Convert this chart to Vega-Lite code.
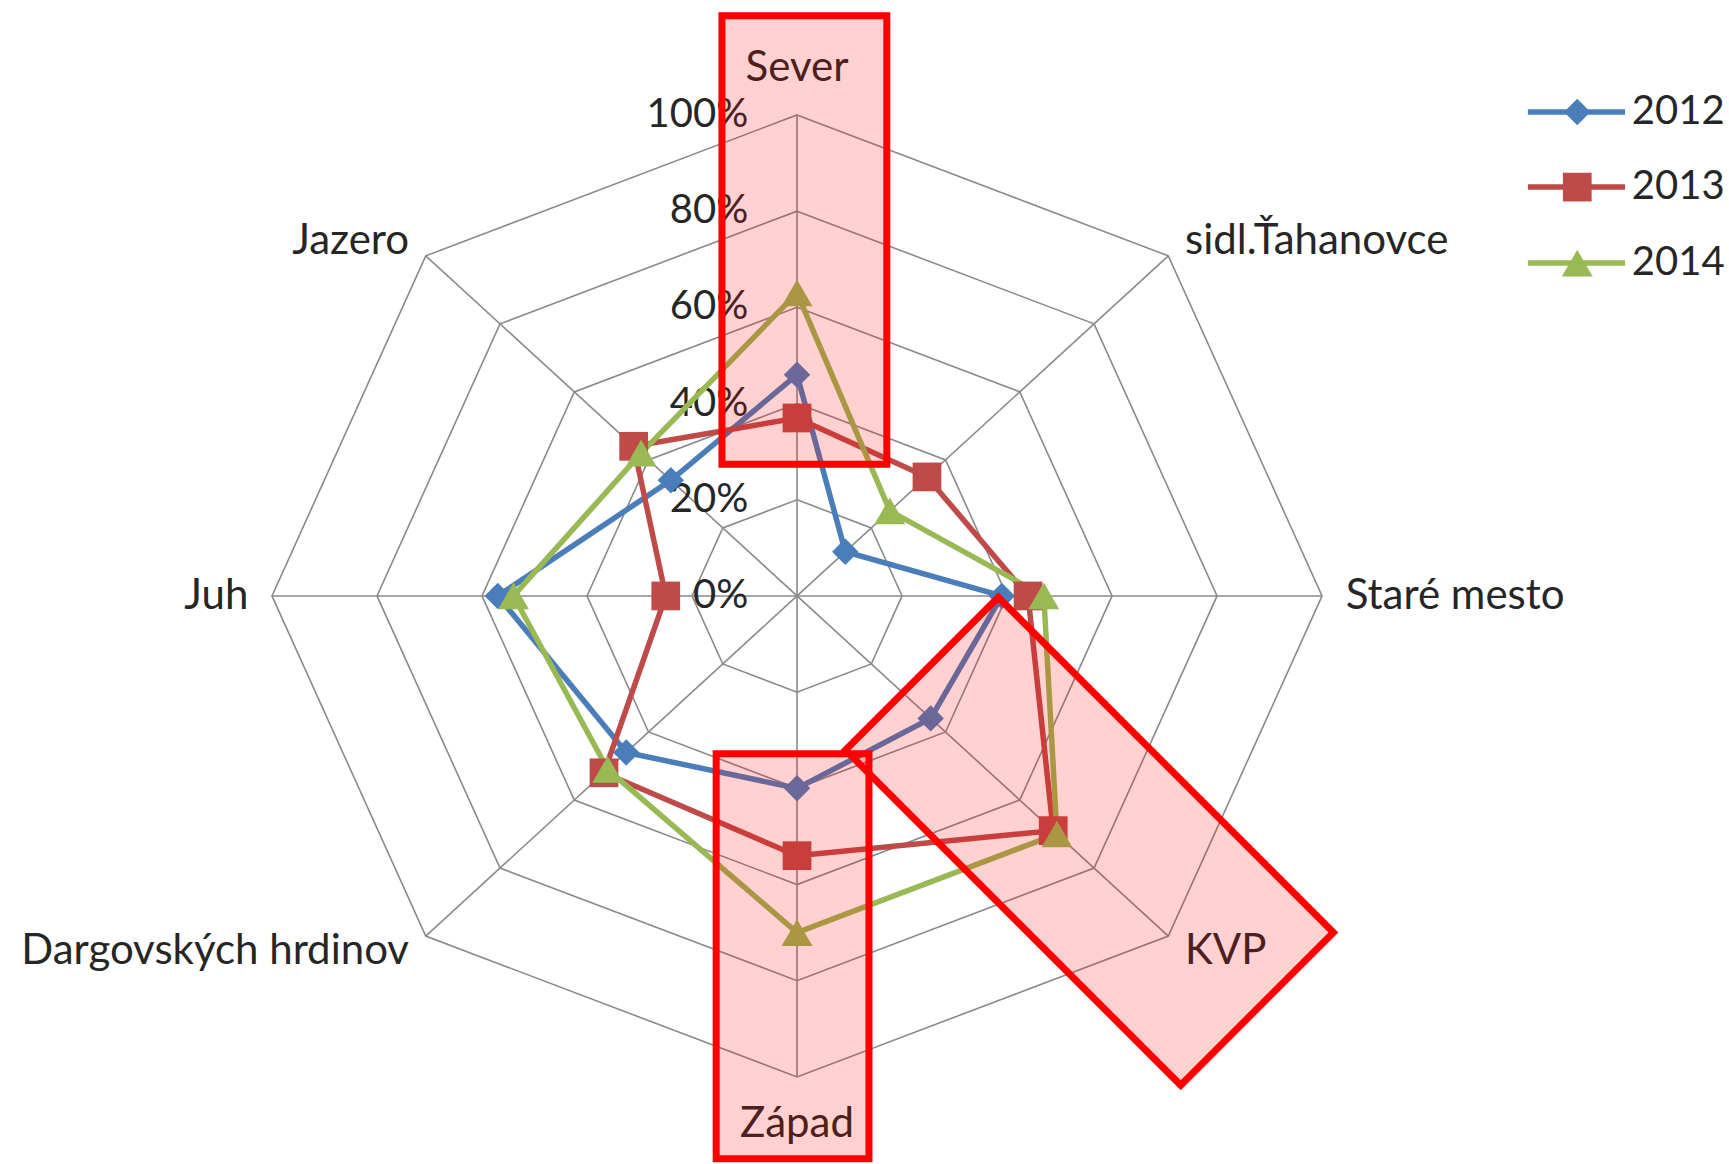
{
  "$schema": "https://vega.github.io/schema/vega-lite/v6.json",
  "autosize": {"type": "fit", "contains": "padding"},
  "width": 1729,
  "height": 1164,
  "padding": 0,
  "background": "white",
  "config": {"view": {"stroke": null}, "text": {"font": "Lato", "color": "#262626"}},
  "datasets": {
    "scores": [
      {"district": "Sever", "idx": 0, "year": "2012", "share": 0.46},
      {"district": "sidl.Ťahanovce", "idx": 1, "year": "2012", "share": 0.13},
      {"district": "Staré mesto", "idx": 2, "year": "2012", "share": 0.39},
      {"district": "KVP", "idx": 3, "year": "2012", "share": 0.36},
      {"district": "Západ", "idx": 4, "year": "2012", "share": 0.40},
      {"district": "Dargovských hrdinov", "idx": 5, "year": "2012", "share": 0.46},
      {"district": "Juh", "idx": 6, "year": "2012", "share": 0.57},
      {"district": "Jazero", "idx": 7, "year": "2012", "share": 0.34},
      {"district": "Sever", "idx": 0, "year": "2013", "share": 0.37},
      {"district": "sidl.Ťahanovce", "idx": 1, "year": "2013", "share": 0.35},
      {"district": "Staré mesto", "idx": 2, "year": "2013", "share": 0.44},
      {"district": "KVP", "idx": 3, "year": "2013", "share": 0.69},
      {"district": "Západ", "idx": 4, "year": "2013", "share": 0.54},
      {"district": "Dargovských hrdinov", "idx": 5, "year": "2013", "share": 0.52},
      {"district": "Juh", "idx": 6, "year": "2013", "share": 0.25},
      {"district": "Jazero", "idx": 7, "year": "2013", "share": 0.44},
      {"district": "Sever", "idx": 0, "year": "2014", "share": 0.63},
      {"district": "sidl.Ťahanovce", "idx": 1, "year": "2014", "share": 0.25},
      {"district": "Staré mesto", "idx": 2, "year": "2014", "share": 0.47},
      {"district": "KVP", "idx": 3, "year": "2014", "share": 0.70},
      {"district": "Západ", "idx": 4, "year": "2014", "share": 0.70},
      {"district": "Dargovských hrdinov", "idx": 5, "year": "2014", "share": 0.51},
      {"district": "Juh", "idx": 6, "year": "2014", "share": 0.54},
      {"district": "Jazero", "idx": 7, "year": "2014", "share": 0.42}
    ],
    "districts": [
      {"district": "Sever", "idx": 0},
      {"district": "sidl.Ťahanovce", "idx": 1},
      {"district": "Staré mesto", "idx": 2},
      {"district": "KVP", "idx": 3},
      {"district": "Západ", "idx": 4},
      {"district": "Dargovských hrdinov", "idx": 5},
      {"district": "Juh", "idx": 6},
      {"district": "Jazero", "idx": 7}
    ],
    "rings": [
      {"level": 0.2, "idx": [0, 1, 2, 3, 4, 5, 6, 7]},
      {"level": 0.4, "idx": [0, 1, 2, 3, 4, 5, 6, 7]},
      {"level": 0.6, "idx": [0, 1, 2, 3, 4, 5, 6, 7]},
      {"level": 0.8, "idx": [0, 1, 2, 3, 4, 5, 6, 7]},
      {"level": 1.0, "idx": [0, 1, 2, 3, 4, 5, 6, 7]}
    ],
    "levels": [
      {"level": 0}, {"level": 0.2}, {"level": 0.4}, {"level": 0.6}, {"level": 0.8}, {"level": 1.0}
    ]
  },
  "layer": [
    {
      "data": {"name": "rings"},
      "transform": [
        {"flatten": ["idx"]},
        {"calculate": "datum.level*sin(datum.idx*PI/4)", "as": "px"},
        {"calculate": "datum.level*cos(datum.idx*PI/4)", "as": "py"}
      ],
      "mark": {"type": "line", "interpolate": "linear-closed", "stroke": "#8a8a8a", "strokeWidth": 1.6},
      "encoding": {
        "x": {"field": "px", "type": "quantitative", "axis": null, "scale": {"domain": [-1.518, 1.775], "nice": false, "zero": false}},
        "y": {"field": "py", "type": "quantitative", "axis": null, "scale": {"domain": [-1.181, 1.239], "nice": false, "zero": false}},
        "detail": {"field": "level", "type": "nominal"},
        "order": {"field": "idx", "type": "quantitative"}
      }
    },
    {
      "data": {"name": "districts"},
      "transform": [
        {"calculate": "sin(datum.idx*PI/4)", "as": "px"},
        {"calculate": "cos(datum.idx*PI/4)", "as": "py"}
      ],
      "mark": {"type": "rule", "stroke": "#8a8a8a", "strokeWidth": 1.6},
      "encoding": {
        "x": {"field": "px", "type": "quantitative", "axis": null, "scale": {"domain": [-1.518, 1.775], "nice": false, "zero": false}},
        "y": {"field": "py", "type": "quantitative", "axis": null, "scale": {"domain": [-1.181, 1.239], "nice": false, "zero": false}},
        "x2": {"datum": 0},
        "y2": {"datum": 0}
      }
    },
    {
      "data": {"name": "levels"},
      "mark": {"type": "text", "align": "right", "baseline": "middle", "fontSize": 40},
      "encoding": {
        "x": {"datum": -0.093, "type": "quantitative", "axis": null, "scale": {"domain": [-1.518, 1.775], "nice": false, "zero": false}},
        "y": {"field": "level", "type": "quantitative", "axis": null, "scale": {"domain": [-1.181, 1.239], "nice": false, "zero": false}},
        "text": {"field": "level", "type": "quantitative", "format": ".0%"}
      }
    },
    {
      "data": {"name": "scores"},
      "transform": [
        {"calculate": "datum.share*sin(datum.idx*PI/4)", "as": "px"},
        {"calculate": "datum.share*cos(datum.idx*PI/4)", "as": "py"}
      ],
      "encoding": {
        "x": {"field": "px", "type": "quantitative", "axis": null, "scale": {"domain": [-1.518, 1.775], "nice": false, "zero": false}},
        "y": {"field": "py", "type": "quantitative", "axis": null, "scale": {"domain": [-1.181, 1.239], "nice": false, "zero": false}}
      },
      "layer": [
        {
          "mark": {"type": "line", "interpolate": "linear-closed", "strokeWidth": 5.5},
          "encoding": {
            "color": {"field": "year", "type": "nominal", "legend": null, "scale": {"domain": ["2012", "2013", "2014"], "range": ["#4a7ebb", "#be4b48", "#98b954"]}},
            "order": {"field": "idx", "type": "quantitative"}
          }
        },
        {
          "mark": {"type": "point", "filled": true, "opacity": 1},
          "encoding": {
            "color": {"field": "year", "type": "nominal", "legend": null},
            "shape": {"field": "year", "type": "nominal", "legend": null, "scale": {"domain": ["2012", "2013", "2014"], "range": ["diamond", "square", "triangle-up"]}},
            "size": {"field": "year", "type": "ordinal", "legend": null, "scale": {"domain": ["2012", "2013", "2014"], "range": [700, 950, 1000]}}
          }
        }
      ]
    },
    {
      "data": {"name": "districts"},
      "transform": [
        {"calculate": "datum.idx % 4 == 0 ? 1.098 : 1.045", "as": "r"},
        {"calculate": "datum.r*sin(datum.idx*PI/4)", "as": "px"},
        {"calculate": "datum.r*cos(datum.idx*PI/4)", "as": "py"}
      ],
      "encoding": {
        "x": {"field": "px", "type": "quantitative", "axis": null, "scale": {"domain": [-1.518, 1.775], "nice": false, "zero": false}},
        "y": {"field": "py", "type": "quantitative", "axis": null, "scale": {"domain": [-1.181, 1.239], "nice": false, "zero": false}},
        "text": {"field": "district"}
      },
      "layer": [
        {
          "transform": [{"filter": "datum.idx >= 1 && datum.idx <= 3"}],
          "mark": {"type": "text", "align": "left", "baseline": "middle", "fontSize": 42}
        },
        {
          "transform": [{"filter": "datum.idx >= 5"}],
          "mark": {"type": "text", "align": "right", "baseline": "middle", "fontSize": 42}
        },
        {
          "transform": [{"filter": "datum.idx % 4 == 0"}],
          "mark": {"type": "text", "align": "center", "baseline": "middle", "fontSize": 42}
        }
      ]
    },
    {
      "data": {"values": [{"year": "2012"}]},
      "layer": [
        {"mark": {"type": "rule", "strokeWidth": 5.5}, "encoding": {"x": {"datum": 1.392, "type": "quantitative"}, "x2": {"datum": 1.577}, "y": {"datum": 1.006, "type": "quantitative"}, "color": {"field": "year", "type": "nominal", "legend": null}}},
        {"mark": {"type": "point", "filled": true, "opacity": 1}, "encoding": {"x": {"datum": 1.486, "type": "quantitative"}, "y": {"datum": 1.006, "type": "quantitative"}, "color": {"field": "year", "type": "nominal", "legend": null}, "shape": {"field": "year", "type": "nominal", "legend": null}, "size": {"field": "year", "type": "ordinal", "legend": null}}},
        {"mark": {"type": "text", "align": "left", "baseline": "middle", "fontSize": 40}, "encoding": {"x": {"datum": 1.59, "type": "quantitative"}, "y": {"datum": 1.006, "type": "quantitative"}, "text": {"field": "year"}}}
      ]
    },
    {
      "data": {"values": [{"year": "2013"}]},
      "layer": [
        {"mark": {"type": "rule", "strokeWidth": 5.5}, "encoding": {"x": {"datum": 1.392, "type": "quantitative"}, "x2": {"datum": 1.577}, "y": {"datum": 0.85, "type": "quantitative"}, "color": {"field": "year", "type": "nominal", "legend": null}}},
        {"mark": {"type": "point", "filled": true, "opacity": 1}, "encoding": {"x": {"datum": 1.486, "type": "quantitative"}, "y": {"datum": 0.85, "type": "quantitative"}, "color": {"field": "year", "type": "nominal", "legend": null}, "shape": {"field": "year", "type": "nominal", "legend": null}, "size": {"field": "year", "type": "ordinal", "legend": null}}},
        {"mark": {"type": "text", "align": "left", "baseline": "middle", "fontSize": 40}, "encoding": {"x": {"datum": 1.59, "type": "quantitative"}, "y": {"datum": 0.85, "type": "quantitative"}, "text": {"field": "year"}}}
      ]
    },
    {
      "data": {"values": [{"year": "2014"}]},
      "layer": [
        {"mark": {"type": "rule", "strokeWidth": 5.5}, "encoding": {"x": {"datum": 1.392, "type": "quantitative"}, "x2": {"datum": 1.577}, "y": {"datum": 0.692, "type": "quantitative"}, "color": {"field": "year", "type": "nominal", "legend": null}}},
        {"mark": {"type": "point", "filled": true, "opacity": 1}, "encoding": {"x": {"datum": 1.486, "type": "quantitative"}, "y": {"datum": 0.692, "type": "quantitative"}, "color": {"field": "year", "type": "nominal", "legend": null}, "shape": {"field": "year", "type": "nominal", "legend": null}, "size": {"field": "year", "type": "ordinal", "legend": null}}},
        {"mark": {"type": "text", "align": "left", "baseline": "middle", "fontSize": 40}, "encoding": {"x": {"datum": 1.59, "type": "quantitative"}, "y": {"datum": 0.692, "type": "quantitative"}, "text": {"field": "year"}}}
      ]
    },
    {
      "data": {"values": [{"box": "Sever"}]},
      "mark": {"type": "rect", "fill": "#ff0000", "fillOpacity": 0.18, "stroke": "#ff0000", "strokeWidth": 7},
      "encoding": {"x": {"datum": -0.143, "type": "quantitative"}, "x2": {"datum": 0.171}, "y": {"datum": 1.206, "type": "quantitative"}, "y2": {"datum": 0.274}}
    },
    {
      "data": {"values": [{"box": "Západ"}]},
      "mark": {"type": "rect", "fill": "#ff0000", "fillOpacity": 0.18, "stroke": "#ff0000", "strokeWidth": 7},
      "encoding": {"x": {"datum": -0.154, "type": "quantitative"}, "x2": {"datum": 0.137}, "y": {"datum": -0.328, "type": "quantitative"}, "y2": {"datum": -1.17}}
    },
    {
      "data": {"values": [{"box": "KVP"}]},
      "mark": {"type": "point", "shape": "M-237,-108H237V108H-237Z", "size": 4, "angle": 45, "filled": true, "fill": "#ff0000", "fillOpacity": 0.18, "stroke": "#ff0000", "strokeWidth": 7, "strokeOpacity": 1, "opacity": 1},
      "encoding": {"x": {"datum": 0.557, "type": "quantitative"}, "y": {"datum": -0.51, "type": "quantitative"}}
    }
  ]
}
